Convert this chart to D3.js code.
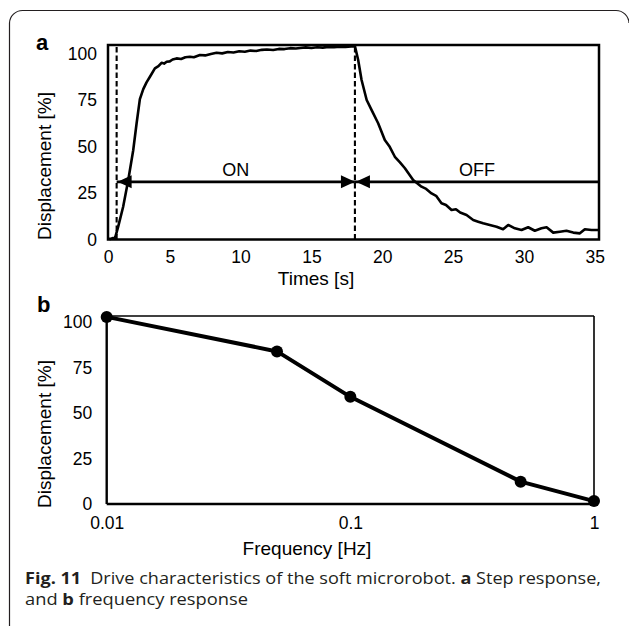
<!DOCTYPE html>
<html><head><meta charset="utf-8">
<script src="https://cdn.jsdelivr.net/npm/d3@7"></script>
<style>
body{margin:0;background:#fff}
svg{display:block}
text{font-family:"Liberation Sans",Arial,sans-serif;fill:#000}
</style></head><body>
<script>
// ---- Panel a: step response ----
const stepTime = [0.64,0.8,1.0,1.13,1.36,1.71,2.07,2.42,2.66,2.89,3.13,3.36,3.6,3.95,4.2,4.42,4.6,4.78,5.0,5.2,5.48,5.8,6.1,6.42,6.7,7.13,7.5,7.9,8.3,8.7,9.1,9.5,9.9,10.3,10.7,11.1,11.5,11.86,12.3,12.7,13.1,13.5,13.9,14.2,14.6,15.0,15.4,15.8,16.2,16.6,17.0,17.4,17.8,18.07,
  18.3,18.54,18.9,19.25,19.71,20.18,20.5,20.89,21.25,21.6,22.18,22.77,23.1,23.48,23.8,24.18,24.5,24.89,25.2,25.5,25.95,26.42,26.77,27.12,27.59,28.07,28.53,28.89,29.36,29.83,30.3,30.77,31.24,31.6,32.07,32.54,33.0,33.48,33.95,34.3,34.77,35.3];
const stepDisp = [0.5,0.3,0.8,0.6,6.9,17.6,32,48,62.5,75.5,80.9,84.5,87.5,92,93.2,95,94.6,95.6,95.8,96.8,97.4,97.1,98.0,98.3,98.0,99.2,99.0,99.8,100.4,100.1,100.8,100.6,101.2,101.0,101.6,101.4,102.0,102.2,101.9,102.5,102.4,102.9,102.7,103.0,103.3,103.0,103.4,103.2,103.6,103.4,103.7,103.5,103.8,104.0,
  96.5,85.8,75,69.6,62.5,53.5,50.2,44.5,41.5,38.3,32,28.4,27.2,24.8,23.5,19.5,18.6,15.9,16.3,14.5,13.2,10.5,9.6,8.7,7.8,6.9,5.5,7.8,6.0,5.1,6.6,4.7,6.0,6.6,3.7,4.2,4.7,3.7,3.3,5.5,5.1,5.1];
const switchTimes = [1.25, 18.07];       // ON / OFF instants (dashed lines)
const phaseLabels = ["ON", "OFF"];
const arrowLevel = 31;                    // displacement level of the ON/OFF arrows
const timeDomain = [0.64, 35.3];
const dispDomainA = [0, 104.6];
const timeTickValues = [0.64,5,10,15,20,25,30,35];
const timeTickLabels = ["0","5","10","15","20","25","30","35"];
const dispTicks = [0,25,50,75,100];

// ---- Panel b: frequency response ----
const freq = [0.01,0.05,0.1,0.5,1];
const freqDisp = [103,84,59,12.3,1.6];
const freqDomain = [0.01, 1];
const dispDomainB = [0, 103.5];
const freqTickValues = [0.01,0.1,1];
const freqTickLabels = ["0.01","0.1","1"];

const W = 629, H = 626;
const svg = d3.select("body").append("svg").attr("width", W).attr("height", H);

// outer frame
svg.append("path")
  .attr("d", "M9.5,640 V23 A13,13 0 0 1 22.5,10.5 H616 A13,13 0 0 1 629,23")
  .attr("fill","none").attr("stroke","#231f20").attr("stroke-width",1.2);

// ================= Panel a =================
const xA = d3.scaleLinear().domain(timeDomain).range([108, 599]);
const yA = d3.scaleLinear().domain(dispDomainA).range([239.5, 45]);
const gA = svg.append("g");

const xAxisA = gA.append("g").attr("transform", `translate(0,${yA(0)})`)
  .call(d3.axisBottom(xA).tickValues(timeTickValues)
    .tickFormat((d,i)=>timeTickLabels[i]).tickSize(0).tickPadding(11));
xAxisA.select(".domain").remove();
xAxisA.selectAll("text").attr("font-size",17.5).attr("font-family",null);

const yAxisA = gA.append("g").attr("transform", `translate(${xA(timeDomain[0])},0)`)
  .call(d3.axisLeft(yA).tickValues(dispTicks).tickSize(0).tickPadding(11));
yAxisA.select(".domain").remove();
yAxisA.selectAll("text").attr("font-size",17.5).attr("font-family",null);

// dashed switch lines
gA.selectAll("line.sw").data(switchTimes).join("line").attr("class","sw")
  .attr("x1", d=>xA(d)).attr("x2", d=>xA(d))
  .attr("y1", yA(dispDomainA[0])).attr("y2", yA(dispDomainA[1]))
  .attr("stroke","#000").attr("stroke-width",2.1).attr("stroke-dasharray","5.5,3");

// arrows
const segs = [[switchTimes[0], switchTimes[1]], [switchTimes[1], timeDomain[1]]];
gA.selectAll("line.ar").data(segs).join("line").attr("class","ar")
  .attr("x1", d=>xA(d[0])).attr("x2", d=>xA(d[1]))
  .attr("y1", yA(arrowLevel)).attr("y2", yA(arrowLevel))
  .attr("stroke","#000").attr("stroke-width",2.6);
const heads = [
  {t: switchTimes[0], dir: -1},  // pointing left
  {t: switchTimes[1], dir: 1},   // pointing right (end of ON)
  {t: switchTimes[1], dir: -1}   // pointing left (start of OFF)
];
gA.selectAll("path.hd").data(heads).join("path").attr("class","hd")
  .attr("d", d => {
    const x = xA(d.t) + (d.dir < 0 ? 1 : 0), y = yA(arrowLevel), L = 14, h = 6.5;
    return `M${x},${y} L${x - d.dir*L},${y-h} L${x - d.dir*L},${y+h} Z`;
  }).attr("fill","#000");

gA.selectAll("text.ph").data(segs).join("text").attr("class","ph")
  .attr("x", d=>xA((d[0]+d[1])/2)).attr("y", yA(arrowLevel) - 5.5)
  .attr("text-anchor","middle").attr("font-size",18)
  .text((d,i)=>phaseLabels[i]);

// curve
const stepData = stepTime.map((t,i)=>[t, stepDisp[i]]);
gA.append("path").datum(stepData)
  .attr("d", d3.line().x(d=>xA(d[0])).y(d=>yA(d[1])))
  .attr("fill","none").attr("stroke","#000").attr("stroke-width",2.6)
  .attr("stroke-linejoin","round");

// frame
gA.append("rect").attr("x", xA(timeDomain[0])).attr("y", yA(dispDomainA[1]))
  .attr("width", xA(timeDomain[1]) - xA(timeDomain[0]))
  .attr("height", yA(dispDomainA[0]) - yA(dispDomainA[1]))
  .attr("fill","none").attr("stroke","#000").attr("stroke-width",2.5);

gA.append("text").attr("x", 316).attr("y", 285).attr("text-anchor","middle")
  .attr("font-size",19).text("Times [s]");
gA.append("text").attr("transform","translate(51,166) rotate(-90)")
  .attr("text-anchor","middle").attr("font-size",19).text("Displacement [%]");
gA.append("text").attr("x",36).attr("y",50).attr("font-size",22)
  .attr("font-weight","bold").text("a");

// ================= Panel b =================
const xB = d3.scaleLog().domain(freqDomain).range([106.7, 594]);
const yB = d3.scaleLinear().domain(dispDomainB).range([504, 316]);
const gB = svg.append("g");

const xAxisB = gB.append("g").attr("transform", `translate(0,${yB(0)})`)
  .call(d3.axisBottom(xB).tickValues(freqTickValues)
    .tickFormat((d,i)=>freqTickLabels[i]).tickSize(0).tickPadding(13));
xAxisB.select(".domain").remove();
xAxisB.selectAll("text").attr("font-size",17.5).attr("font-family",null);

const yAxisB = gB.append("g").attr("transform", `translate(${xB(freqDomain[0])},0)`)
  .call(d3.axisLeft(yB).tickValues(dispTicks).tickSize(0).tickPadding(14.5));
yAxisB.select(".domain").remove();
yAxisB.selectAll("text").attr("font-size",17.5).attr("font-family",null);

// frame: thin top/right, thicker left/bottom
gB.append("line").attr("x1", xB(freqDomain[0])).attr("x2", xB(freqDomain[1]))
  .attr("y1", yB(dispDomainB[1])).attr("y2", yB(dispDomainB[1]))
  .attr("stroke","#000").attr("stroke-width",1.6);
gB.append("line").attr("x1", xB(freqDomain[1])).attr("x2", xB(freqDomain[1]))
  .attr("y1", yB(dispDomainB[1])).attr("y2", yB(0))
  .attr("stroke","#000").attr("stroke-width",1.6);
gB.append("line").attr("x1", xB(freqDomain[0])).attr("x2", xB(freqDomain[1]))
  .attr("y1", yB(0)).attr("y2", yB(0))
  .attr("stroke","#000").attr("stroke-width",2.4);
gB.append("line").attr("x1", xB(freqDomain[0])).attr("x2", xB(freqDomain[0]))
  .attr("y1", yB(dispDomainB[1])).attr("y2", yB(0))
  .attr("stroke","#000").attr("stroke-width",2.4);

const freqData = freq.map((f,i)=>[f, freqDisp[i]]);
gB.append("path").datum(freqData)
  .attr("d", d3.line().x(d=>xB(d[0])).y(d=>yB(d[1])))
  .attr("fill","none").attr("stroke","#000").attr("stroke-width",4)
  .attr("stroke-linejoin","round");
gB.selectAll("circle").data(freqData).join("circle")
  .attr("cx", d=>xB(d[0])).attr("cy", d=>yB(d[1])).attr("r",6).attr("fill","#000");

gB.append("text").attr("x", 307).attr("y", 555).attr("text-anchor","middle")
  .attr("font-size",19).text("Frequency [Hz]");
gB.append("text").attr("transform","translate(51,434) rotate(-90)")
  .attr("text-anchor","middle").attr("font-size",19).text("Displacement [%]");
gB.append("text").attr("x",37).attr("y",312).attr("font-size",22)
  .attr("font-weight","bold").text("b");

// ================= Caption =================
const cap1 = svg.append("text").attr("x",25).attr("y",584)
  .attr("font-size",16.5).style("font-family",'"Open Sans","Noto Sans",sans-serif')
  .attr("textLength",576).attr("lengthAdjust","spacingAndGlyphs");
cap1.append("tspan").attr("font-weight","bold").style("fill","#231f20").text("Fig. 11");
cap1.append("tspan").style("fill","#231f20").text("\u2002Drive characteristics of the soft microrobot. ");
cap1.append("tspan").attr("font-weight","bold").style("fill","#231f20").text("a");
cap1.append("tspan").style("fill","#231f20").text(" Step response,");

const cap2 = svg.append("text").attr("x",25).attr("y",605)
  .attr("font-size",16.5).style("font-family",'"Open Sans","Noto Sans",sans-serif')
  .attr("textLength",223).attr("lengthAdjust","spacingAndGlyphs");
cap2.append("tspan").style("fill","#231f20").text("and ");
cap2.append("tspan").attr("font-weight","bold").style("fill","#231f20").text("b");
cap2.append("tspan").style("fill","#231f20").text(" frequency response");
</script>
</body></html>
